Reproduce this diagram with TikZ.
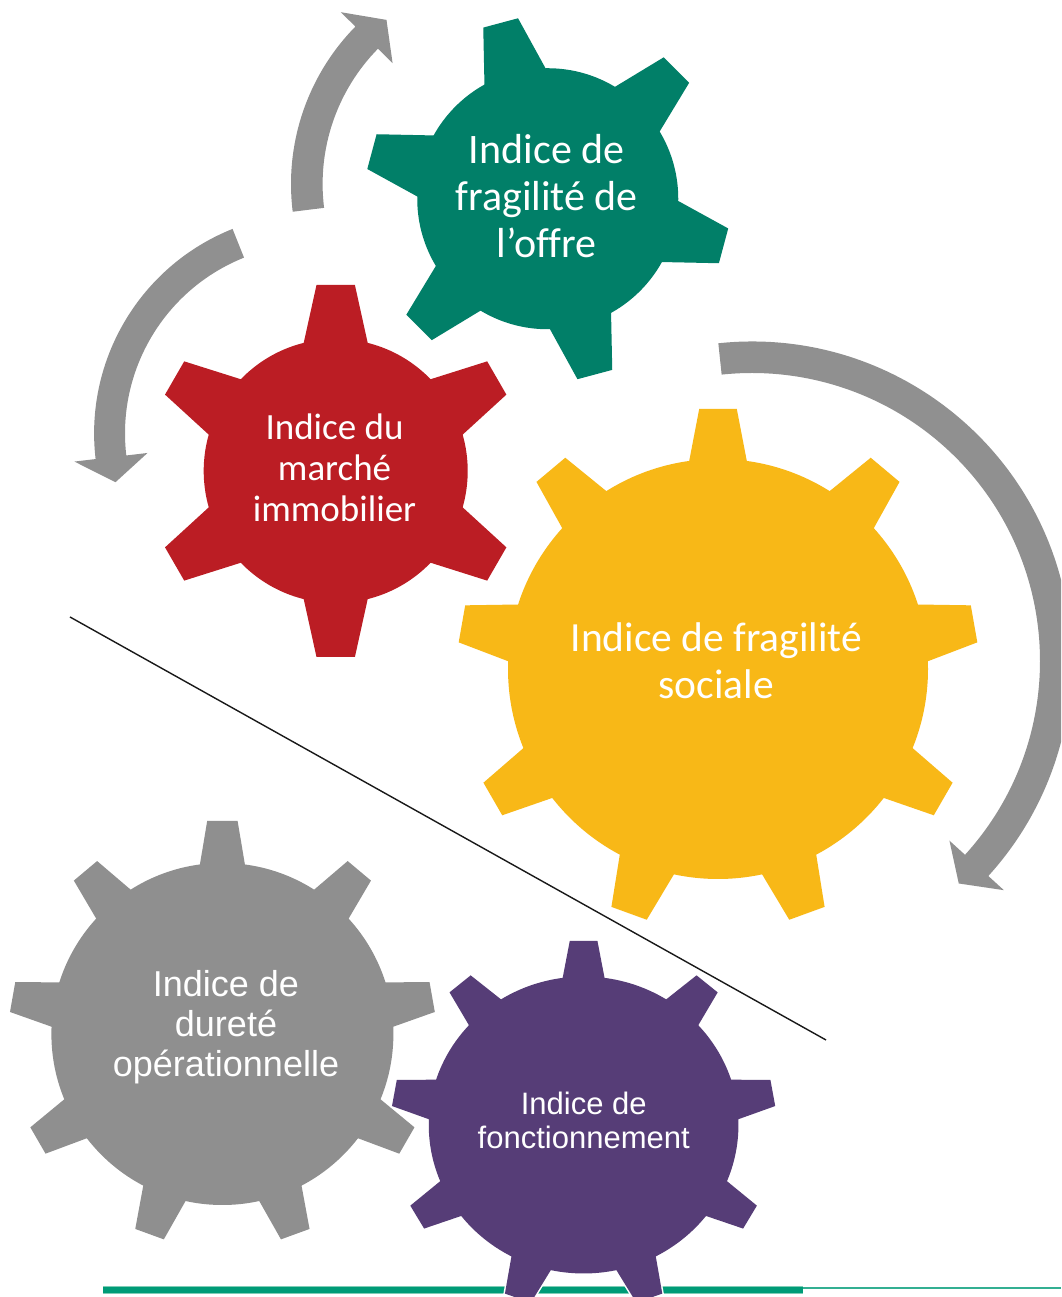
\documentclass[tikz,border=0pt]{standalone}
\usepackage{fontspec}
\setmainfont{Carlito}[Ligatures=NoCommon]
\newfontfamily\arialf{Liberation Sans}
\definecolor{gGreen}{HTML}{017F68}
\definecolor{gRed}{HTML}{BB1D24}
\definecolor{gYellow}{HTML}{F8B817}
\definecolor{gGray}{HTML}{8F8F8F}
\definecolor{gPurple}{HTML}{563D77}
\definecolor{aGray}{HTML}{909090}
\definecolor{lineGreen}{HTML}{009B77}
\definecolor{lineGreenLight}{HTML}{7FCDB6}
\tikzset{
  geartext/.style={text=white, align=center, inner sep=0pt},
  arrowfill/.style={fill=aGray},
  whiteedge/.style={draw=white, line width=3pt, fill=white},
}
% #1 style, #2 n teeth, #3 start angle, #4 tip radius, #5 body radius, #6 tip half width, #7 base half width
\newcommand\gearteeth[7]{%
  \path[#1] (0,0) circle[radius=#5];
  \pgfmathsetmacro\gstep{360/#2}%
  \pgfmathsetmacro\gxb{#5*cos(asin(#7/#5))}%
  \pgfmathsetmacro\gxi{\gxb-20}%
  \pgfmathsetmacro\gwi{#7+(#7-#6)*20/(#4-\gxb)}%
  \foreach \k in {1,...,#2}{%
    \pgfmathsetmacro\ga{#3+(\k-1)*\gstep}%
    \path[#1,rotate=\ga] (\gxi,-\gwi) -- (#4,-#6) -- (#4,#6) -- (\gxi,\gwi) -- cycle;
  }%
}
% #1 cx, #2 cy, #3 inner r, #4 outer r, #5 start angle, #6 head base angle, #7 tip angle, #8 head half width
\newcommand\arcarrow[8]{%
  \begin{scope}[shift={(#1,#2)}]
    \pgfmathsetmacro\amid{(#3+#4)/2}%
    \pgfmathsetmacro\abo{\amid+#8}%
    \pgfmathsetmacro\abi{\amid-#8}%
    \path[arrowfill] (#5:#4) arc[start angle=#5,end angle=#6,radius=#4]
      -- (#6:\abo) -- (#7:\amid) -- (#6:\abi) -- (#6:#3)
      arc[start angle=#6,end angle=#5,radius=#3] -- cycle;
  \end{scope}%
}
\begin{document}
\begin{tikzpicture}[x=1pt,y=1pt]
\useasboundingbox (0,0) rectangle (1061,1297);
\clip (0,0) rectangle (1061,1297);
\fill[white] (0,0) rectangle (1061,1297);

% curved arrows
\arcarrow{515.6}{1113}{193}{224.6}{187.1}{135.5}{128.2}{36.3}
\arcarrow{314.3}{863.6}{189.3}{220.2}{111.8}{186.7}{193.8}{36.8}
\arcarrow{752}{636}{288}{319.5}{96.05}{-42.3}{-47.1}{36.8}

% gears
\begin{scope}[shift={(547.75,1098.25)}]
  \gearteeth{fill=gGreen}{6}{-15}{182}{130.5}{18}{31.6}
\end{scope}
\begin{scope}[shift={(335.7,826)}]
  \gearteeth{fill=gRed}{6}{30}{186}{132}{19.2}{32}
\end{scope}
\begin{scope}[shift={(718,628)}]
  \gearteeth{fill=gYellow}{9}{90}{260}{210}{18.8}{28.8}
\end{scope}
\begin{scope}[shift={(222.4,263)}]
  \gearteeth{fill=gGray}{9}{90}{213}{171}{15.2}{22.5}
\end{scope}

% diagonal line
\coordinate (d1) at (70,680);
\coordinate (d2) at (826,257);
\draw[line width=1.4pt, black!90] (d1) -- (d2);

% bottom rule
\coordinate (b1) at (103,7);
\coordinate (b2) at (803,7);
\coordinate (b3) at (803,9);
\coordinate (b4) at (1061,9);
\draw[lineGreenLight, line width=8pt] (b1) -- (b2);
\draw[lineGreen, line width=5.5pt] (b1) -- (b2);
\draw[lineGreen!80, line width=2.5pt] (b3) -- (b4);

% purple gear with white edge
\begin{scope}[shift={(583.6,172)}, xscale=1.022, yscale=0.98]
  \gearteeth{whiteedge}{9}{90}{188}{151.5}{13.5}{20.5}
  \gearteeth{fill=gPurple}{9}{90}{188}{151.5}{13.5}{20.5}
\end{scope}

% texts
\node[geartext, font=\fontsize{42}{47}\selectfont] (tgreen) at (546.7,1100.7) {Indice de\\fragilité de\\l’offre};
\node[geartext, font=\fontsize{37}{41}\selectfont] (tred) at (334.5,829) {Indice du\\marché\\immobilier};
\node[geartext, font=\fontsize{41.5}{47.7}\selectfont] (tyellow) at (716.3,636.3) {Indice de fragilité\\sociale};
\node[geartext, font=\arialf\fontsize{36}{40}\selectfont] (tgray) at (226,269.7) {Indice de\\dureté\\opérationnelle};
\node[geartext, font=\arialf\fontsize{31}{34}\selectfont] (tpurple) at (583.7,177) {Indice de\\fonctionnement};
\end{tikzpicture}
\end{document}
